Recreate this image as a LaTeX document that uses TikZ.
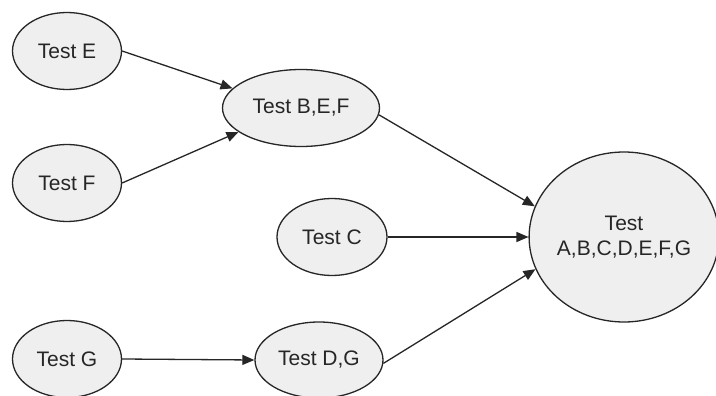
\documentclass[tikz,border=0pt]{standalone}
\usepackage{fontspec}
\setmainfont{Liberation Sans}
\usetikzlibrary{shapes.geometric,arrows.meta}
\definecolor{nodefill}{HTML}{EFEFEF}
\definecolor{ink}{HTML}{262626}
\begin{document}
\begin{tikzpicture}[x=1pt,y=-1pt,
  testnode/.style={ellipse,draw=ink,line width=1.3pt,fill=nodefill,inner sep=0pt,
    text=ink,font=\fontsize{21}{25}\selectfont,align=center},
  small/.style={testnode,minimum width=109pt,minimum height=77pt},
  link/.style={draw=ink,line width=1.3pt,-{Triangle[length=12pt,width=10pt]}}]
\useasboundingbox[fill=white] (0,0) rectangle (716,396);

% source tests
\node[small] (E) at (67,51) {Test E};
\node[small] (F) at (67,183) {Test F};
\node[small] (G) at (67,359) {Test G};

% intermediate tests
\node[testnode,minimum width=157pt,minimum height=77pt] (BEF) at (301,108) {Test B,E,F};
\node[small,minimum width=110pt] (C) at (332,237) {Test C};
\node[testnode,minimum width=128pt,minimum height=76pt] (DG) at (319,360) {Test D,G};

% combined test
\node[testnode,minimum width=183pt,minimum height=170pt] (ALL) at (624,237) {Test\\A,B,C,D,E,F,G};

% dependencies
\draw[link] (E.east) -- (BEF.164);
\draw[link] (F.east) -- (BEF.201);
\draw[link] (BEF.-5) -- (ALL.161);
\draw[link] (C.east) -- (ALL.west);
\draw[link] (DG.-3) -- (ALL.200);
\draw[link] (G.east) -- (DG.west);
\end{tikzpicture}
\end{document}
